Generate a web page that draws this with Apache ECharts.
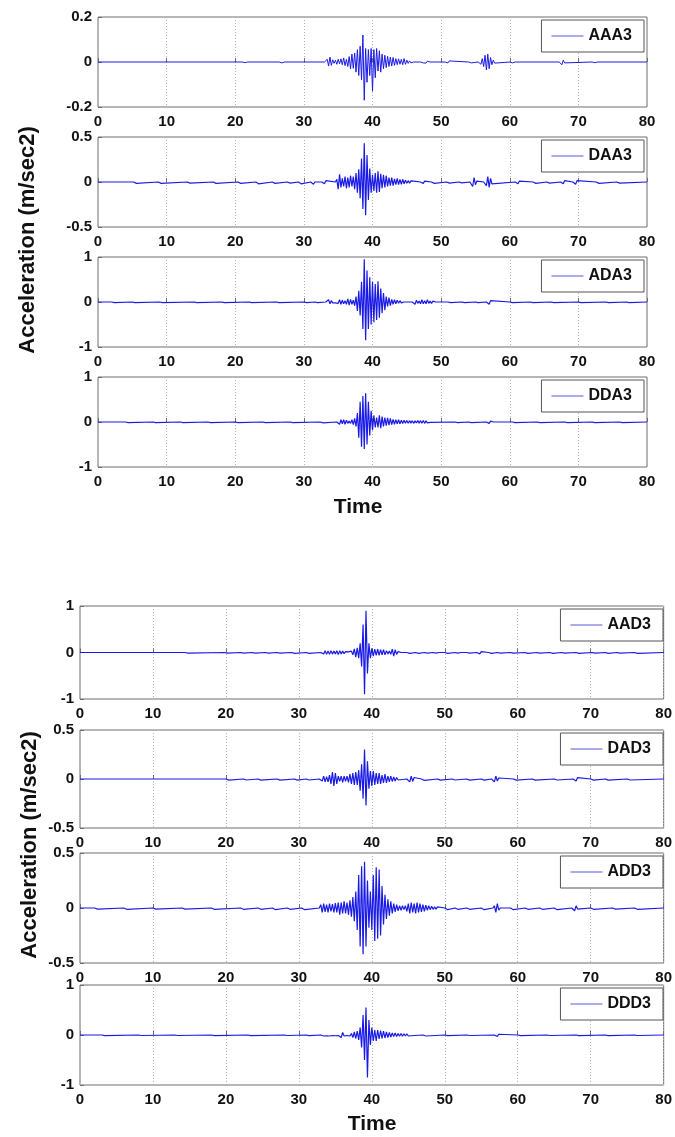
<!DOCTYPE html>
<html>
<head>
<meta charset="utf-8">
<title>Acceleration records</title>
<script src="https://cdn.jsdelivr.net/npm/echarts@6/dist/echarts.min.js"></script>
<style>
  html, body { margin: 0; padding: 0; background: #fff; }
  #chart { width: 675px; height: 1137px; }
</style>
</head>
<body>
<div id="chart"></div>
<script>
// Sample spacing of the recorded values (s)
const STEP = 0.2;
const T_MIN = 0, T_MAX = 80, T_TICK = 10;
const X_TICKS = [0, 10, 20, 30, 40, 50, 60, 70, 80];

// Records: each burst is [start time, samples...] taken every STEP seconds
const AAA3 = [
  [21.0, [0, 0.004, -0.003, 0.003, 0]],
  [26.4, [0, 0.003, -0.004, 0.002, 0]],
  [33.0, [0, -0.004, 0.012, -0.018, 0.022, -0.015, 0.01, -0.006, 0.008, -0.01,
          0.012, -0.008, 0.014, -0.012, 0.018, -0.016, 0.012, -0.02, 0.024, -0.03,
          0.035, -0.028, 0.04, -0.045, 0.055, -0.06, 0.07, -0.08, 0.12, -0.17,
          0.06, -0.09, 0.055, -0.06, 0.06, -0.13, 0.055, -0.07, 0.06, -0.04,
          0.05, -0.045, 0.035, -0.03, 0.03, -0.025, 0.025, -0.02, 0.022, -0.018,
          0.02, -0.015, 0.015, -0.012, 0.014, -0.01, 0.012, -0.012, 0.015, -0.01,
          0.008, -0.006, 0.005, -0.004, 0.003, 0]],
  [47.0, [0, 0.004, -0.004, 0.003, -0.005, 0.004, -0.003, 0]],
  [50.6, [0, 0.003, -0.004, 0.005, -0.003, 0.004, 0]],
  [54.0, [0, 0.006, -0.004, 0]],
  [55.4, [0, 0.006, -0.01, 0.015, -0.02, 0.03, -0.035, 0.035, -0.03, 0.02, -0.012, 0.008, -0.005, 0]],
  [60.0, [0, 0.003, -0.004, 0.003, 0]],
  [67.2, [0, 0.006, -0.012, 0.008, -0.004, 0]],
  [72.0, [0, 0.004, -0.003, 0.004, 0]]
];

const DAA3 = [
  [5.2, [0, 0.015, -0.015, 0]],
  [8.8, [0, 0.012, -0.015, 0]],
  [13.0, [0, 0.015, -0.012, 0]],
  [16.8, [0, 0.015, -0.015, 0]],
  [20.4, [0, 0.012, -0.015, 0]],
  [23.0, [0, 0.02, -0.02, 0]],
  [25.4, [0, 0.015, -0.015, 0]],
  [27.6, [0, 0.015, -0.012, 0]],
  [29.2, [0, 0.02, -0.02, 0]],
  [31.0, [0, 0.02, -0.025, 0]],
  [32.6, [0, 0.02, -0.02, 0.015, 0]],
  [34.6, [0, 0.03, -0.08, 0.085, -0.06, 0.04, -0.05, 0.06, -0.07, 0.05,
          -0.06, 0.07, -0.05, 0.06, -0.08, 0.1, -0.12, 0.14, -0.18, 0.26,
          -0.3, 0.43, -0.37, 0.3, -0.2, 0.15, -0.12, 0.08, -0.1, 0.1,
          -0.12, 0.12, -0.11, 0.09, -0.07, 0.08, -0.06, 0.07, -0.05, 0.05,
          -0.04, 0.05, -0.04, 0.035, -0.03, 0.04, -0.03, 0.03, -0.025, 0.03,
          -0.02, 0.02, -0.015, 0.015, -0.012, 0.012, -0.01, 0.01, 0]],
  [47.0, [0, 0.015, -0.015, 0.01, 0]],
  [48.6, [0, 0.012, -0.015, 0]],
  [50.8, [0, 0.01, -0.012, 0]],
  [52.6, [0, 0.012, -0.01, 0]],
  [54.2, [0, 0.02, -0.05, 0.05, -0.03, 0.01, 0]],
  [56.2, [0, 0.02, -0.04, 0.06, -0.06, 0.04, -0.02, 0]],
  [60.8, [0, 0.015, -0.02, 0.01, 0]],
  [63.4, [0, 0.012, -0.015, 0]],
  [65.4, [0, 0.012, -0.012, 0]],
  [67.4, [0, 0.015, -0.02, 0.015, 0]],
  [69.2, [0, 0.02, -0.025, 0.015, 0]],
  [72.6, [0, 0.015, -0.015, 0]],
  [75.6, [0, 0.012, -0.012, 0]]
];

const ADA3 = [
  [2.0, [0, 0.015, -0.015, 0]],
  [5.0, [0, 0.012, -0.015, 0]],
  [9.0, [0, 0.015, -0.012, 0]],
  [14.0, [0, 0.015, -0.015, 0]],
  [18.0, [0, 0.012, -0.015, 0]],
  [22.0, [0, 0.015, -0.015, 0]],
  [26.0, [0, 0.015, -0.012, 0]],
  [30.0, [0, 0.015, -0.015, 0]],
  [31.6, [0, 0.02, -0.015, 0]],
  [33.2, [0, -0.03, 0.05, -0.04, 0.03, -0.02, 0.02, -0.02, 0.01, -0.03,
          0.05, -0.05, 0.04, -0.04, 0.03, -0.05, 0.07, -0.07, 0.06, -0.05,
          0.04, -0.08, 0.12, -0.2, 0.25, -0.3, 0.45, -0.6, 0.95, -0.85,
          0.7, -0.6, 0.55, -0.5, 0.45, -0.45, 0.4, -0.4, 0.46, -0.35,
          0.3, -0.25, 0.2, -0.18, 0.12, -0.1, 0.1, -0.08, 0.06, -0.05,
          0.05, -0.04, 0.04, -0.03, 0.03, -0.02, 0.02, 0]],
  [45.8, [0, 0.03, -0.05, 0.04, -0.03, 0.02, -0.04, 0.05, -0.04, 0.03,
          -0.04, 0.05, -0.03, 0.02, -0.03, 0.02, -0.01, 0]],
  [51.0, [0, 0.015, -0.012, 0]],
  [53.0, [0, 0.012, -0.015, 0]],
  [55.0, [0, 0.015, -0.015, 0]],
  [56.6, [0, 0.04, -0.05, 0.03, 0]],
  [60.0, [0, 0.015, -0.015, 0]],
  [63.0, [0, 0.012, -0.015, 0]],
  [66.0, [0, 0.015, -0.012, 0]],
  [70.0, [0, 0.015, -0.015, 0]],
  [74.0, [0, 0.012, -0.012, 0]],
  [77.0, [0, 0.015, -0.015, 0]]
];

const DDA3 = [
  [4.0, [0, 0.015, -0.015, 0]],
  [8.0, [0, 0.012, -0.015, 0]],
  [12.0, [0, 0.015, -0.012, 0]],
  [16.0, [0, 0.015, -0.015, 0]],
  [20.0, [0, 0.012, -0.015, 0]],
  [24.0, [0, 0.015, -0.015, 0]],
  [28.0, [0, 0.015, -0.012, 0]],
  [32.4, [0, 0.02, -0.02, 0]],
  [34.8, [0, 0.04, -0.05, 0.05, -0.04, 0.05, -0.05, 0.04, -0.03, 0.02,
          -0.03, 0.05, -0.06, 0.08, -0.1, 0.2, -0.35, 0.45, -0.55, 0.58,
          -0.6, 0.64, -0.5, 0.45, -0.3, 0.25, -0.18, 0.15, -0.12, 0.1,
          -0.12, 0.15, -0.14, 0.12, -0.1, 0.1, -0.08, 0.09, -0.07, 0.08,
          -0.06, 0.06, -0.05, 0.05, -0.04, 0.05, -0.04, 0.04, -0.035, 0.04,
          -0.03, 0.035, -0.03, 0.03, -0.025, 0.03, -0.03, 0.025, -0.02, 0.03,
          -0.025, 0.03, -0.03, 0.035, -0.03, 0.025, -0.02, 0.015, -0.01, 0]],
  [52.0, [0, 0.015, -0.012, 0]],
  [54.0, [0, 0.012, -0.015, 0]],
  [56.6, [0, 0.025, -0.03, 0.02, -0.01, 0]],
  [60.4, [0, 0.015, -0.015, 0]],
  [64.0, [0, 0.012, -0.015, 0]],
  [68.0, [0, 0.015, -0.012, 0]],
  [72.0, [0, 0.015, -0.015, 0]],
  [76.0, [0, 0.012, -0.012, 0]]
];

const AAD3 = [
  [14.4, [0, 0.015, -0.015, 0]],
  [19.8, [0, 0.015, -0.012, 0]],
  [22.0, [0, 0.015, -0.015, 0]],
  [23.6, [0, 0.012, -0.015, 0]],
  [25.4, [0, 0.015, -0.015, 0]],
  [27.0, [0, 0.02, -0.015, 0]],
  [29.0, [0, 0.015, -0.02, 0]],
  [31.0, [0, 0.02, -0.02, 0]],
  [33.0, [0, 0.02, -0.03, 0.04, -0.04, 0.035, -0.04, 0.04, -0.035, 0.03,
          -0.03, 0.04, -0.045, 0.04, -0.03, 0.03, -0.025, 0.02, -0.02, 0.015,
          -0.02, 0.03, -0.05, 0.08, -0.1, 0.1, -0.12, 0.2, -0.3, 0.6,
          -0.9, 0.9, -0.45, 0.2, -0.12, 0.09, -0.08, 0.07, -0.06, 0.07,
          -0.06, 0.06, -0.05, 0.06, -0.05, 0.04, -0.03, 0.03, -0.04, 0.07,
          -0.08, 0.06, -0.04, 0.02, -0.015, 0]],
  [44.8, [0, 0.02, -0.02, 0]],
  [46.0, [0, 0.015, -0.02, 0]],
  [47.2, [0, 0.02, -0.015, 0]],
  [48.4, [0, 0.015, -0.015, 0.01, 0]],
  [50.0, [0, 0.015, -0.02, 0]],
  [51.4, [0, 0.02, -0.015, 0.015, 0]],
  [53.0, [0, 0.015, -0.015, 0]],
  [54.4, [0, 0.02, -0.03, 0.02, 0]],
  [56.0, [0, 0.015, -0.02, 0]],
  [57.2, [0, 0.02, -0.015, 0]],
  [59.0, [0, 0.015, -0.015, 0]],
  [61.0, [0, 0.02, -0.02, 0]],
  [62.6, [0, 0.015, -0.015, 0]],
  [64.4, [0, 0.02, -0.02, 0]],
  [66.0, [0, 0.015, -0.015, 0]],
  [68.0, [0, 0.02, -0.02, 0]],
  [70.2, [0, 0.015, -0.015, 0]],
  [72.0, [0, 0.02, -0.02, 0]],
  [73.6, [0, 0.015, -0.015, 0]],
  [76.0, [0, 0.025, -0.02, 0]]
];

const DAD3 = [
  [20.0, [0, 0.01, -0.012, 0]],
  [22.4, [0, 0.012, -0.01, 0]],
  [24.4, [0, 0.01, -0.012, 0]],
  [27.0, [0, 0.012, -0.012, 0]],
  [29.4, [0, 0.01, -0.012, 0]],
  [31.0, [0, 0.012, -0.01, 0]],
  [32.8, [0, 0.015, -0.02, 0.03, -0.03, 0.025, -0.03, 0.04, -0.05, 0.07,
          -0.07, 0.06, -0.05, 0.03, -0.025, 0.03, -0.035, 0.03, -0.025, 0.03,
          -0.035, 0.05, -0.05, 0.06, -0.06, 0.07, -0.06, 0.09, -0.12, 0.15,
          -0.2, 0.3, -0.27, 0.18, -0.1, 0.08, -0.07, 0.08, -0.06, 0.06,
          -0.05, 0.06, -0.05, 0.04, -0.04, 0.05, -0.04, 0.03, -0.03, 0.03,
          -0.025, 0.02, -0.02, 0.015, -0.01, 0]],
  [44.8, [0, 0.02, -0.03, 0.03, -0.025, 0.015, 0]],
  [46.8, [0, 0.012, -0.015, 0]],
  [49.0, [0, 0.01, -0.012, 0]],
  [51.0, [0, 0.012, -0.01, 0]],
  [53.0, [0, 0.012, -0.012, 0]],
  [55.0, [0, 0.015, -0.012, 0]],
  [56.4, [0, 0.02, -0.03, 0.03, -0.02, 0.01, 0]],
  [59.4, [0, 0.012, -0.012, 0]],
  [62.0, [0, 0.01, -0.012, 0]],
  [65.0, [0, 0.012, -0.01, 0]],
  [67.6, [0, 0.015, -0.02, 0.015, 0]],
  [70.0, [0, 0.012, -0.012, 0]],
  [72.0, [0, 0.01, -0.012, 0]],
  [75.0, [0, 0.012, -0.01, 0]]
];

const ADD3 = [
  [2.0, [0, 0.01, -0.01, 0]],
  [6.0, [0, 0.01, -0.012, 0]],
  [10.0, [0, 0.012, -0.01, 0]],
  [14.0, [0, 0.01, -0.01, 0]],
  [18.0, [0, 0.01, -0.012, 0]],
  [22.0, [0, 0.012, -0.012, 0]],
  [24.4, [0, 0.015, -0.012, 0]],
  [26.4, [0, 0.012, -0.015, 0]],
  [28.4, [0, 0.015, -0.012, 0]],
  [30.4, [0, 0.012, -0.015, 0]],
  [32.8, [0, 0.03, -0.04, 0.04, -0.035, 0.03, -0.04, 0.04, -0.03, 0.035,
          -0.04, 0.045, -0.04, 0.05, -0.06, 0.05, -0.05, 0.06, -0.05, 0.05,
          -0.06, 0.07, -0.08, 0.1, -0.12, 0.15, -0.2, 0.3, -0.35, 0.38,
          -0.42, 0.42, -0.35, 0.25, -0.18, 0.15, -0.2, 0.3, -0.3, 0.37,
          -0.28, 0.35, -0.25, 0.2, -0.15, 0.12, -0.1, 0.08, -0.07, 0.06,
          -0.05, 0.04, -0.035, 0.03, -0.025, 0.02, -0.02, 0.02, -0.015, 0.02,
          -0.03, 0.04, -0.05, 0.05, -0.04, 0.04, -0.05, 0.05, -0.04, 0.04,
          -0.035, 0.03, -0.03, 0.025, -0.02, 0.02, -0.015, 0.015, -0.012, 0.01,
          -0.01, 0.01, 0]],
  [50.0, [0, 0.012, -0.015, 0]],
  [51.4, [0, 0.015, -0.012, 0]],
  [53.0, [0, 0.012, -0.012, 0]],
  [55.0, [0, 0.015, -0.015, 0]],
  [56.6, [0, 0.02, -0.04, 0.04, -0.02, 0]],
  [59.0, [0, 0.012, -0.015, 0]],
  [61.0, [0, 0.015, -0.012, 0]],
  [63.0, [0, 0.012, -0.012, 0]],
  [65.0, [0, 0.012, -0.015, 0]],
  [67.4, [0, 0.015, -0.025, 0.02, -0.01, 0]],
  [70.0, [0, 0.012, -0.012, 0]],
  [73.0, [0, 0.012, -0.01, 0]],
  [76.0, [0, 0.01, -0.012, 0]]
];

const DDD3 = [
  [3.0, [0, 0.01, -0.012, 0]],
  [8.0, [0, 0.012, -0.01, 0]],
  [13.0, [0, 0.01, -0.01, 0]],
  [18.0, [0, 0.012, -0.012, 0]],
  [23.0, [0, 0.01, -0.012, 0]],
  [28.0, [0, 0.012, -0.01, 0]],
  [31.0, [0, 0.012, -0.012, 0]],
  [33.0, [0, 0.015, -0.02, 0.015, -0.015, 0.02, -0.02, 0.015, -0.01, 0.01,
          -0.015, 0.015, -0.01, 0.02, -0.05, 0.05, -0.02, 0.01, -0.01, 0.015,
          -0.02, 0.03, -0.05, 0.06, -0.07, 0.08, -0.1, 0.15, -0.25, 0.4,
          -0.5, 0.55, -0.85, 0.3, -0.2, 0.15, -0.12, 0.1, -0.12, 0.1,
          -0.08, 0.09, -0.07, 0.08, -0.06, 0.06, -0.05, 0.05, -0.04, 0.04,
          -0.03, 0.04, -0.03, 0.03, -0.025, 0.03, -0.025, 0.025, -0.02, 0.025,
          -0.02, 0.02, -0.015, 0.015, -0.01, 0]],
  [47.0, [0, 0.015, -0.02, 0]],
  [50.0, [0, 0.01, -0.012, 0]],
  [53.0, [0, 0.012, -0.01, 0]],
  [56.8, [0, 0.02, -0.03, 0.015, 0]],
  [60.0, [0, 0.01, -0.012, 0]],
  [64.0, [0, 0.012, -0.01, 0]],
  [68.0, [0, 0.012, -0.012, 0]],
  [72.0, [0, 0.01, -0.012, 0]],
  [76.0, [0, 0.012, -0.01, 0]]
];

// Panel definitions: name, record, y-range
const NAMES = ['AAA3', 'DAA3', 'ADA3', 'DDA3', 'AAD3', 'DAD3', 'ADD3', 'DDD3'];
const RECORDS = [AAA3, DAA3, ADA3, DDA3, AAD3, DAD3, ADD3, DDD3];
const Y_LIMITS = [0.2, 0.5, 1, 1, 1, 0.5, 0.5, 1];

// Plot-area placement (px)
const GRID_BOXES = [
  { left: 98, width: 549, top: 17, height: 90 },
  { left: 98, width: 549, top: 137, height: 90 },
  { left: 98, width: 549, top: 257, height: 90 },
  { left: 98, width: 549, top: 377, height: 90 },
  { left: 80, width: 586, top: 606, height: 93 },
  { left: 80, width: 586, top: 730, height: 98 },
  { left: 80, width: 586, top: 853, height: 110 },
  { left: 80, width: 586, top: 985, height: 100 }
];

const FONT = '"Liberation Sans", Arial, sans-serif';
const LINE_COLOR = '#1a1ae6';

function toPoints(record) {
  const pts = [[T_MIN, 0]];
  record.slice().sort((a, b) => a[0] - b[0]).forEach(([start, vals]) => {
    vals.forEach((v, i) => pts.push([Math.round((start + i * STEP) * 100) / 100, v]));
  });
  pts.push([T_MAX, 0]);
  return pts;
}

const grids = [], xAxes = [], yAxes = [], series = [], legends = [];

GRID_BOXES.forEach((g, i) => {
  grids.push({
    left: g.left, top: g.top, width: g.width, height: g.height,
    show: true, borderColor: '#6e6e6e', borderWidth: 1, backgroundColor: '#fff'
  });
  xAxes.push({
    type: 'value', gridIndex: i, min: T_MIN, max: T_MAX, interval: T_TICK,
    axisLine: { show: false },
    axisTick: { show: true, inside: true, length: 4, lineStyle: { color: '#6e6e6e' } },
    axisLabel: {
      show: true, margin: 7, color: '#111', fontFamily: FONT, fontWeight: 'bold', fontSize: 15,
      formatter: v => X_TICKS.indexOf(v) >= 0 ? String(v) : ''
    },
    splitLine: { show: true, lineStyle: { color: '#b4b4b4', type: [1, 2], width: 1 } }
  });
  const lim = Y_LIMITS[i];
  yAxes.push({
    type: 'value', gridIndex: i, min: -lim, max: lim, interval: lim,
    axisLine: { show: false },
    axisTick: { show: true, inside: true, length: 4, lineStyle: { color: '#6e6e6e' } },
    axisLabel: {
      show: true, margin: 6, color: '#111', fontFamily: FONT, fontWeight: 'bold', fontSize: 15,
      formatter: v => String(Math.round(v * 100) / 100)
    },
    splitLine: { show: false }
  });
  series.push({
    name: NAMES[i], type: 'line', xAxisIndex: i, yAxisIndex: i,
    data: toPoints(RECORDS[i]),
    showSymbol: false, symbol: 'none', sampling: null, animation: false,
    lineStyle: { color: LINE_COLOR, width: i === 0 ? 1 : 1.2 }, itemStyle: { color: LINE_COLOR },
    clip: true, z: 3
  });
  const rightEdge = 675 - (g.left + g.width);
  legends.push({
    data: [NAMES[i]], orient: 'horizontal',
    right: rightEdge + 3, top: g.top + 3,
    backgroundColor: '#fff', borderColor: '#555', borderWidth: 1, borderRadius: 0,
    padding: [8, 12, 8, 10],
    icon: 'rect', itemWidth: 32, itemHeight: 1,
    itemStyle: { color: '#5a5ad8' },
    textStyle: { color: '#111', fontFamily: FONT, fontWeight: 'bold', fontSize: 16 },
    selectedMode: false, z: 10
  });
});

const AXIS_TITLE_FONT = 'bold 22px ' + FONT;

const chart = echarts.init(document.getElementById('chart'), null, { renderer: 'canvas' });
chart.setOption({
  backgroundColor: '#fff',
  animation: false,
  grid: grids, xAxis: xAxes, yAxis: yAxes, series: series, legend: legends,
  graphic: [
    {
      type: 'text', x: 28, y: 240, rotation: Math.PI / 2,
      style: { text: 'Acceleration (m/sec2)', fill: '#111', font: AXIS_TITLE_FONT, align: 'center', verticalAlign: 'middle' }
    },
    {
      type: 'text', x: 358, y: 507,
      style: { text: 'Time', fill: '#111', font: 'bold 21px ' + FONT, align: 'center', verticalAlign: 'middle' }
    },
    {
      type: 'text', x: 30, y: 845, rotation: Math.PI / 2,
      style: { text: 'Acceleration (m/sec2)', fill: '#111', font: AXIS_TITLE_FONT, align: 'center', verticalAlign: 'middle' }
    },
    {
      type: 'text', x: 372, y: 1124,
      style: { text: 'Time', fill: '#111', font: 'bold 21px ' + FONT, align: 'center', verticalAlign: 'middle' }
    }
  ]
});
</script>
</body>
</html>
